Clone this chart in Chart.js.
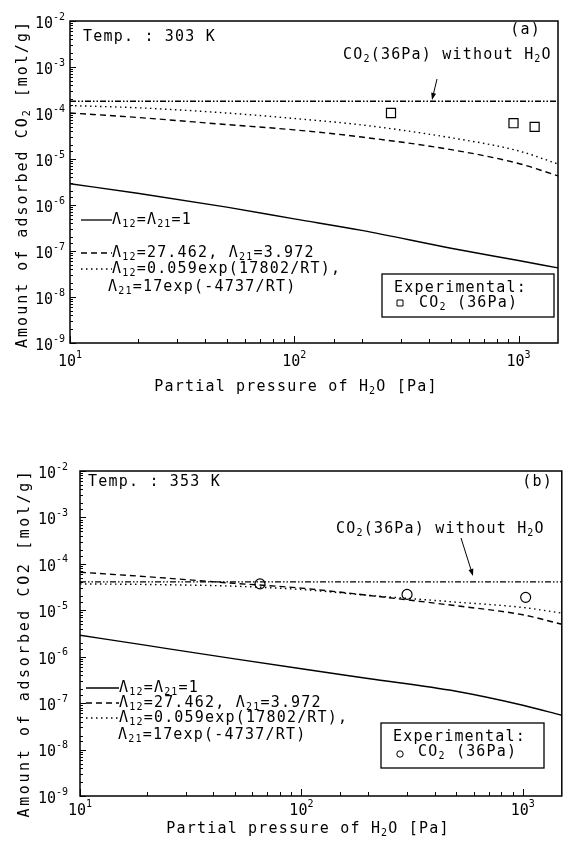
<!DOCTYPE html>
<html lang="en">
<head>
<meta charset="UTF-8">
<title>CO2 adsorption vs H2O partial pressure</title>
<script src="https://cdn.jsdelivr.net/npm/chart.js@4.4.0/dist/chart.umd.min.js"></script>
<style>
  body { margin: 0; background: #fff; }
  canvas { position: absolute; left: 0; }
  #chartA { top: 0; }
  #chartB { top: 420px; }
</style>
</head>
<body>
<canvas id="chartA" width="568" height="420"></canvas>
<canvas id="chartB" width="568" height="423"></canvas>
<script>
// partial pressure of H2O [Pa] where the model curves were read
var pressure = [10, 20, 50, 100, 200, 500, 1000, 1500];

// (a) 303 K, amount of adsorbed CO2 [mol/g]
var solidA  = [2.9e-6, 1.8e-6, 9.0e-7, 5.0e-7, 2.8e-7, 1.15e-7, 6.2e-8, 4.3e-8];
var dashedA = [1.0e-4, 8.0e-5, 5.6e-5, 4.3e-5, 3.0e-5, 1.6e-5, 8.0e-6, 4.3e-6];
var dottedA = [1.45e-4, 1.3e-4, 1.0e-4, 7.6e-5, 5.5e-5, 2.9e-5, 1.5e-5, 7.8e-6];
var pureX   = [10, 1500];
var pureA   = [1.8e-4, 1.8e-4];
var expXA   = [270, 950, 1180];
var expYA   = [1.0e-4, 6.0e-5, 5.0e-5];

// (b) 353 K
var solidB  = [2.9e-6, 1.75e-6, 9.0e-7, 5.5e-7, 3.4e-7, 1.8e-7, 9.0e-8, 5.5e-8];
var dashedB = [6.6e-5, 5.3e-5, 3.8e-5, 3.0e-5, 2.1e-5, 1.25e-5, 8.0e-6, 5.0e-6];
var dottedB = [3.7e-5, 3.6e-5, 3.3e-5, 2.8e-5, 2.1e-5, 1.5e-5, 1.15e-5, 8.7e-6];
var pureB   = [4.1e-5, 4.1e-5];
var expXB   = [65, 300, 1030];
var expYB   = [3.7e-5, 2.2e-5, 1.9e-5];

var FONT = "'DejaVu Sans Mono', monospace";
var DASH = { solid: [], dashed: [6, 4], dotted: [1.5, 3.5], dashdot: [6, 2, 1.5, 2, 1.5, 2] };

function xy(xs, ys) {
  return xs.map(function (x, i) { return { x: x, y: ys[i] }; });
}

function decade(v) {
  var e = Math.log10(v);
  return Math.abs(e - Math.round(e)) < 1e-6 ? Math.round(e) : null;
}

// text with _{..} subscripts
function parts(str) {
  var out = [], re = /_\{([^}]*)\}/g, last = 0, m;
  while ((m = re.exec(str))) {
    if (m.index > last) out.push([str.slice(last, m.index), 0]);
    out.push([m[1], 1]);
    last = re.lastIndex;
  }
  if (last < str.length) out.push([str.slice(last), 0]);
  return out;
}
function drawRich(ctx, str, x, y, size, align) {
  var ps = parts(str), w = 0;
  ps.forEach(function (p) {
    ctx.font = (p[1] ? Math.round(size * 0.68) : size) + 'px ' + FONT;
    p.push(ctx.measureText(p[0]).width);
    w += p[2];
  });
  if (align === 'right') x -= w;
  if (align === 'center') x -= w / 2;
  ps.forEach(function (p) {
    ctx.font = (p[1] ? Math.round(size * 0.68) : size) + 'px ' + FONT;
    ctx.fillText(p[0], x, p[1] ? y + size * 0.32 : y);
    x += p[2];
  });
}

// "10" with a raised exponent; y = middle of the "10"
function drawPow(ctx, e, x, y, align) {
  ctx.font = '15px ' + FONT;
  var wb = ctx.measureText('10').width;
  ctx.font = '10px ' + FONT;
  var we = ctx.measureText(String(e)).width;
  var x0 = align === 'right' ? x - wb - we : x - (wb + we) / 2;
  ctx.font = '15px ' + FONT;
  ctx.fillText('10', x0, y);
  ctx.font = '10px ' + FONT;
  ctx.fillText(String(e), x0 + wb, y - 7);
}

function arrow(ctx, x1, y1, x2, y2) {
  var a = Math.atan2(y2 - y1, x2 - x1), L = 7, W = 2.5;
  ctx.beginPath(); ctx.moveTo(x1, y1); ctx.lineTo(x2 - L * Math.cos(a), y2 - L * Math.sin(a)); ctx.stroke();
  ctx.beginPath();
  ctx.moveTo(x2, y2);
  ctx.lineTo(x2 - L * Math.cos(a) + W * Math.sin(a), y2 - L * Math.sin(a) - W * Math.cos(a));
  ctx.lineTo(x2 - L * Math.cos(a) - W * Math.sin(a), y2 - L * Math.sin(a) + W * Math.cos(a));
  ctx.closePath(); ctx.fill();
}

var decor = {
  id: 'decor',
  afterDraw: function (chart, args, o) {
    var ctx = chart.ctx, a = chart.chartArea, xs = chart.scales.x, ys = chart.scales.y;
    ctx.save();
    ctx.strokeStyle = '#000'; ctx.fillStyle = '#000';

    // frame + inward ticks
    ctx.lineWidth = 1.5;
    ctx.strokeRect(a.left, a.top, a.right - a.left, a.bottom - a.top);
    ctx.lineWidth = 1;
    ctx.beginPath();
    ys.ticks.forEach(function (t) {
      var p = Math.round(ys.getPixelForValue(t.value)) + 0.5;
      var len = decade(t.value) !== null ? 6 : 3;
      ctx.moveTo(a.left, p); ctx.lineTo(a.left + len, p);
    });
    xs.ticks.forEach(function (t) {
      if (t.value >= xs.max) return;
      var p = Math.round(xs.getPixelForValue(t.value)) + 0.5;
      var len = decade(t.value) !== null ? 7 : 4;
      ctx.moveTo(p, a.bottom); ctx.lineTo(p, a.bottom - len);
    });
    ctx.stroke();

    // decade tick labels
    ctx.textBaseline = 'middle';
    ys.ticks.forEach(function (t) {
      var e = decade(t.value);
      if (e !== null) drawPow(ctx, e, a.left - o.yGap, ys.getPixelForValue(t.value) + 3, 'right');
    });
    xs.ticks.forEach(function (t) {
      var e = decade(t.value);
      if (e !== null) drawPow(ctx, e, xs.getPixelForValue(t.value), a.bottom + o.xGap, 'center');
    });

    ctx.letterSpacing = '1.2px';

    // axis titles
    drawRich(ctx, 'Partial pressure of H_{2}O [Pa]', o.xTitle[0], o.xTitle[1], 15, 'center');
    ctx.save();
    ctx.letterSpacing = o.ySpacing;
    ctx.translate(o.yTitle[0], o.yTitle[1]);
    ctx.rotate(-Math.PI / 2);
    drawRich(ctx, o.yTitleText, 0, 0, 15, 'center');
    ctx.restore();

    // labels inside the plot
    drawRich(ctx, o.temp, o.tempPos[0], o.tempPos[1], 15);
    drawRich(ctx, o.tag, o.tagPos[0], o.tagPos[1], 15, 'right');
    drawRich(ctx, 'CO_{2}(36Pa) without H_{2}O', o.pure[0], o.pure[1], 15);
    ctx.lineWidth = 1;
    arrow(ctx, o.arrow[0], o.arrow[1], o.arrow[2], o.arrow[3]);

    // model legend
    var lg = o.legend;
    ['solid', 'dashed', 'dotted'].forEach(function (k, i) {
      ctx.setLineDash(DASH[k]);
      ctx.lineWidth = 1.3;
      ctx.beginPath(); ctx.moveTo(lg.x1, lg.ys[i]); ctx.lineTo(lg.x2, lg.ys[i]); ctx.stroke();
    });
    ctx.setLineDash([]);
    drawRich(ctx, '\u039B_{12}=\u039B_{21}=1', lg.x2, lg.ys[0], 15);
    drawRich(ctx, '\u039B_{12}=27.462, \u039B_{21}=3.972', lg.x2, lg.ys[1], 15);
    drawRich(ctx, '\u039B_{12}=0.059exp(17802/RT),', lg.x2, lg.ys[2], 15);
    drawRich(ctx, '\u039B_{21}=17exp(-4737/RT)', lg.x4, lg.ys[3], 15);

    // experimental box
    var b = o.box;
    ctx.lineWidth = 1.3;
    ctx.strokeRect(b.x, b.y, b.w, b.h);
    drawRich(ctx, 'Experimental:', b.x + 12, b.y + 14, 15);
    drawRich(ctx, 'CO_{2} (36Pa)', b.x + 37, b.y + 29, 15);
    ctx.lineWidth = 1;
    ctx.beginPath();
    if (b.marker === 'rect') ctx.rect(b.x + 15, b.y + 26, 6, 6);
    else ctx.arc(b.x + 19, b.y + 31, 3.2, 0, Math.PI * 2);
    ctx.stroke();

    ctx.restore();
  }
};

function makeChart(id, c) {
  var line = function (ys, dash, w) {
    return { data: xy(pressure, ys), borderColor: '#000', borderWidth: w, borderDash: dash,
             pointRadius: 0, fill: false, cubicInterpolationMode: 'monotone' };
  };
  return new Chart(document.getElementById(id), {
    type: 'line',
    data: {
      datasets: [
        line(c.solid, DASH.solid, 1.4),
        line(c.dashed, DASH.dashed, 1.4),
        line(c.dotted, DASH.dotted, 1.4),
        { data: xy(pureX, c.pure), borderColor: '#000', borderWidth: 1.4, borderDash: DASH.dashdot, pointRadius: 0, fill: false },
        { data: xy(c.expX, c.expY), showLine: false, pointStyle: c.marker, pointRadius: c.marker === 'rect' ? 6.4 : 5,
          pointBackgroundColor: '#fff', pointBorderColor: '#000', pointBorderWidth: 1.2 }
      ]
    },
    options: {
      responsive: false, animation: false, events: [],
      layout: { padding: { top: c.top, right: c.right, left: 0, bottom: 0 } },
      plugins: { legend: { display: false }, tooltip: { enabled: false }, decor: c.decor },
      scales: {
        x: {
          type: 'logarithmic', min: 10, max: 1500,
          grid: { display: false }, border: { display: false },
          ticks: { display: false, autoSkip: false },
          afterFit: function (s) { s.height = c.xh; }
        },
        y: {
          type: 'logarithmic', min: 1e-9, max: 1e-2,
          grid: { display: false }, border: { display: false },
          ticks: { display: false, autoSkip: false },
          afterFit: function (s) { s.width = c.yw; }
        }
      }
    },
    plugins: [decor]
  });
}

makeChart('chartA', {
  solid: solidA, dashed: dashedA, dotted: dottedA, pure: pureA, expX: expXA, expY: expYA, marker: 'rect',
  top: 21, right: 10, yw: 70, xh: 77,
  decor: {
    yGap: 5, xGap: 19,
    xTitle: [296, 387], yTitle: [23, 184], ySpacing: '2px', yTitleText: 'Amount of adsorbed CO_{2} [mol/g]',
    temp: 'Temp. : 303 K', tempPos: [83, 37], tag: '(a)', tagPos: [541, 30],
    pure: [343, 55], arrow: [437, 79, 432, 100],
    legend: { x1: 81, x2: 112, x4: 108, ys: [220, 253, 269, 287] },
    box: { x: 382, y: 274, w: 172, h: 43, marker: 'rect' }
  }
});

makeChart('chartB', {
  solid: solidB, dashed: dashedB, dotted: dottedB, pure: pureB, expX: expXB, expY: expYB, marker: 'circle',
  top: 51, right: 2, yw: 80, xh: 47,
  decor: {
    yGap: 12, xGap: 15,
    xTitle: [308, 409], yTitle: [25, 223], ySpacing: '2.6px', yTitleText: 'Amount of adsorbed CO2 [mol/g]',
    temp: 'Temp. : 353 K', tempPos: [88, 62], tag: '(b)', tagPos: [553, 62],
    pure: [336, 109], arrow: [461, 118, 473, 156],
    legend: { x1: 86, x2: 119, x4: 118, ys: [268, 283, 298, 315] },
    box: { x: 381, y: 303, w: 163, h: 45, marker: 'circle' }
  }
});
</script>
</body>
</html>
